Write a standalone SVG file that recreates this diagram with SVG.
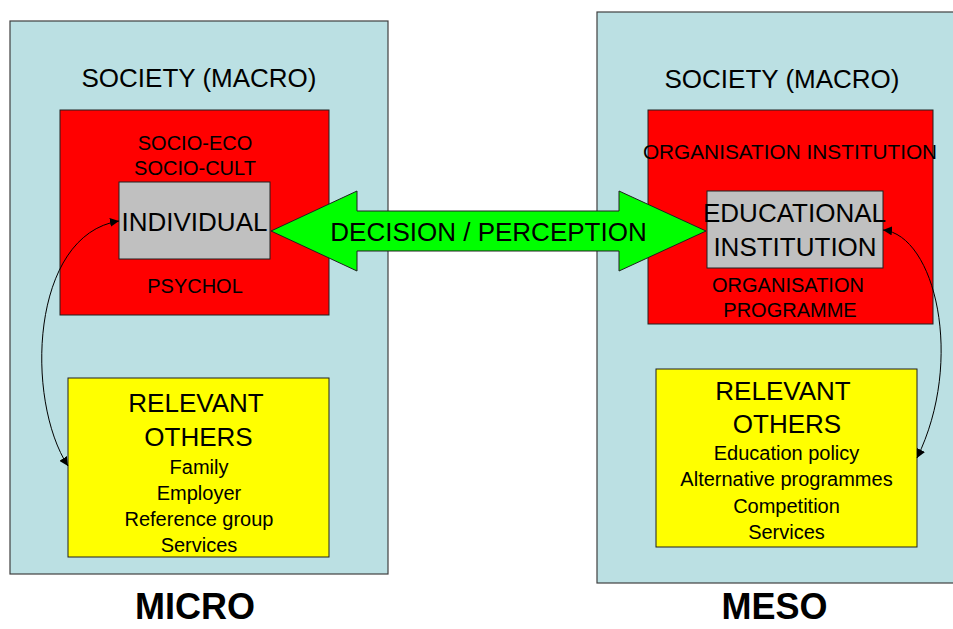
<svg xmlns="http://www.w3.org/2000/svg" width="953" height="629" viewBox="0 0 953 629">
<defs>
<style>
text{font-family:"Liberation Sans",Arial,sans-serif;fill:#000;text-anchor:middle}
.panel{fill:#BBE0E3;stroke:#404040;stroke-width:1.2}
.red{fill:#FF0000;stroke:#202020;stroke-width:1}
.grey{fill:#C0C0C0;stroke:#202020;stroke-width:1}
.yellow{fill:#FFFF00;stroke:#202020;stroke-width:1}
.big{font-size:26px}
.mid{font-size:20px}
.title{font-size:36px;font-weight:bold}
.conn{fill:none;stroke:#000;stroke-width:1}
</style>
<marker id="ah" viewBox="0 0 10 10" refX="10" refY="5" markerWidth="9" markerHeight="9" markerUnits="userSpaceOnUse" orient="auto-start-reverse">
<path d="M0,0 L10,5 L0,10 z" fill="#000"/>
</marker>
</defs>
<rect width="953" height="629" fill="#fff"/>
<g id="micro-panel">
<rect class="panel" x="10" y="21" width="378" height="553"/>
<text class="big" x="199" y="87">SOCIETY (MACRO)</text>
</g>
<g id="meso-panel">
<rect class="panel" x="597" y="12" width="362" height="571"/>
<text class="big" x="782" y="88">SOCIETY (MACRO)</text>
</g>
<g id="micro-context">
<rect class="red" x="60" y="110" width="269" height="205"/>
<text class="mid" x="195" y="150">SOCIO-ECO</text>
<text class="mid" x="195" y="175">SOCIO-CULT</text>
<text class="mid" x="195" y="293">PSYCHOL</text>
</g>
<g id="individual">
<rect class="grey" x="119" y="182" width="151" height="77"/>
<text class="big" x="194.5" y="231">INDIVIDUAL</text>
</g>
<g id="meso-context">
<rect class="red" x="648" y="110" width="285" height="214"/>
<text class="mid" x="790" y="159" style="font-size:20.8px">ORGANISATION INSTITUTION</text>
<text class="mid" x="788" y="292">ORGANISATION</text>
<text class="mid" x="790" y="317">PROGRAMME</text>
</g>
<g id="educational-institution">
<rect class="grey" x="707" y="191" width="176" height="77"/>
<text class="big" x="794.5" y="222">EDUCATIONAL</text>
<text class="big" x="795" y="256">INSTITUTION</text>
</g>
<g id="micro-others">
<rect class="yellow" x="68" y="378" width="261" height="179"/>
<text class="big" x="196" y="412">RELEVANT</text>
<text class="big" x="198.5" y="446">OTHERS</text>
<text class="mid" x="199" y="474">Family</text>
<text class="mid" x="199" y="500">Employer</text>
<text class="mid" x="199" y="526">Reference group</text>
<text class="mid" x="199" y="552">Services</text>
</g>
<g id="meso-others">
<rect class="yellow" x="656" y="369" width="261" height="178"/>
<text class="big" x="783" y="400">RELEVANT</text>
<text class="big" x="787" y="433">OTHERS</text>
<text class="mid" x="786.5" y="460">Education policy</text>
<text class="mid" x="786.5" y="486">Alternative programmes</text>
<text class="mid" x="786.5" y="513">Competition</text>
<text class="mid" x="786.5" y="539">Services</text>
</g>
<g id="decision-perception">
<path d="M271,231 L357,191 L357,211 L619,211 L619,191 L706,231 L619,271 L619,251 L357,251 L357,271 Z" fill="#00FF00" stroke="#202020" stroke-width="1"/>
<text class="big" x="488.5" y="241">DECISION / PERCEPTION</text>
</g>
<g id="connectors">
<path class="conn" d="M119,221 C30,235 25,400 68,466" marker-start="url(#ah)" marker-end="url(#ah)"/>
<path class="conn" d="M883,230 C935,235 965,360 917,458" marker-start="url(#ah)" marker-end="url(#ah)"/>
</g>
<g id="labels">
<text class="title" x="195" y="619">MICRO</text>
<text class="title" x="774.5" y="619">MESO</text>
</g>
</svg>
